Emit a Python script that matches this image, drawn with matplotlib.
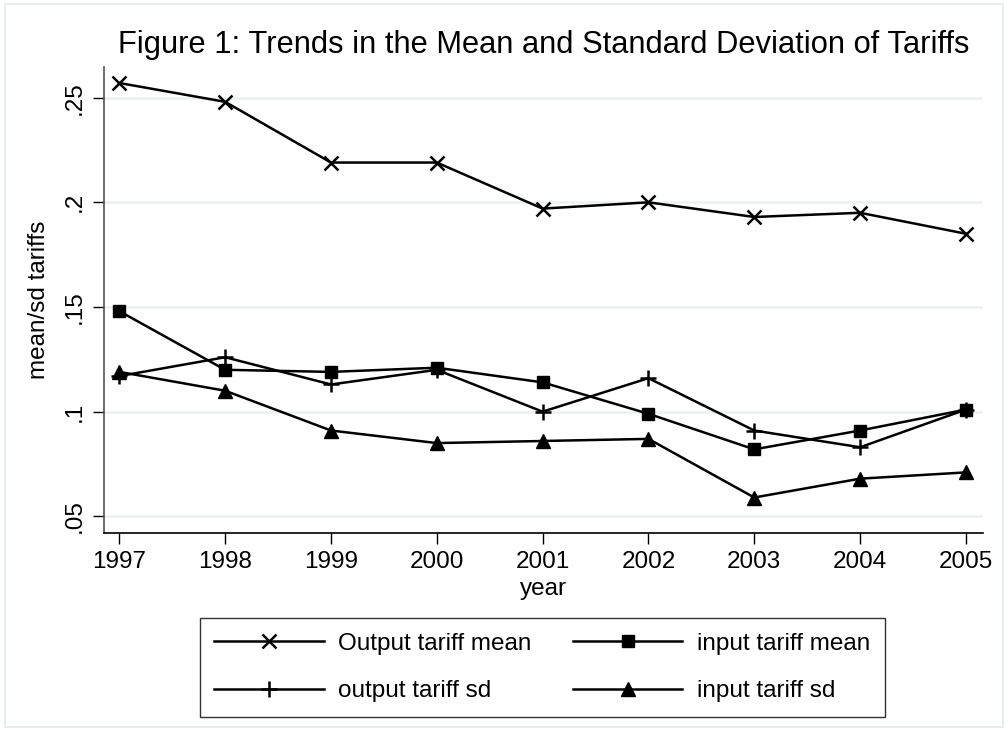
import matplotlib.pyplot as plt
from matplotlib import patches

plt.rcParams["font.family"] = ["Liberation Sans", "DejaVu Sans"]

years = [1997, 1998, 1999, 2000, 2001, 2002, 2003, 2004, 2005]
out_mean = [0.257, 0.248, 0.219, 0.219, 0.197, 0.200, 0.193, 0.195, 0.185]
in_mean = [0.148, 0.120, 0.119, 0.121, 0.114, 0.099, 0.082, 0.091, 0.101]
out_sd = [0.117, 0.126, 0.113, 0.120, 0.100, 0.116, 0.091, 0.083, 0.101]
in_sd = [0.119, 0.110, 0.091, 0.085, 0.086, 0.087, 0.059, 0.068, 0.071]

y_ticks = [0.05, 0.1, 0.15, 0.2, 0.25]
y_labels = [".05", ".1", ".15", ".2", ".25"]

fig = plt.figure(figsize=(10.08, 7.31), dpi=100)
fig.patch.set_facecolor("white")

# light outer frame like the Stata graph region
fig.add_artist(patches.Rectangle((0.005, 0.005), 0.99, 0.99, transform=fig.transFigure,
                                 fill=False, edgecolor="#e3ebef", lw=1.2))

ax = fig.add_axes([0.1032, 0.2713, 0.8718, 0.6375])

style = dict(color="black", lw=1.8)
l1, = ax.plot(years, out_mean, marker="x", markersize=10, markeredgewidth=1.8, **style)
l2, = ax.plot(years, out_sd, marker="+", markersize=12, markeredgewidth=1.8, **style)
l3, = ax.plot(years, in_mean, marker="s", markersize=9, **style)
l4, = ax.plot(years, in_sd, marker="^", markersize=10, **style)

ax.set_xlim(1996.855, 2005.16)
ax.set_ylim(0.0422, 0.2648)

ax.set_yticks(y_ticks)
ax.set_yticklabels(y_labels, rotation=90, va="center")
ax.set_xticks(years)
ax.tick_params(axis="both", labelsize=17.5, length=8, width=1, direction="out", pad=5)

for y in y_ticks:
    ax.axhline(y, color="#eaf1f3", lw=1.8, zorder=0)

for side in ["top", "right"]:
    ax.spines[side].set_visible(False)
ax.spines["left"].set_color("#555555")
ax.spines["left"].set_linewidth(1.2)
ax.spines["bottom"].set_linewidth(1.2)

ax.set_xlabel("year", fontsize=17.5, labelpad=4)
ax.set_ylabel("mean/sd tariffs", fontsize=17.5, labelpad=10)
ax.set_title("Figure 1: Trends in the Mean and Standard Deviation of Tariffs",
             fontsize=22.2, pad=10)

leg = fig.legend([l1, l2, l3, l4],
                 ["Output tariff mean", "output tariff sd", "input tariff mean", "input tariff sd"],
                 ncol=2, loc="center", bbox_to_anchor=(0.538, 0.087), fontsize=17.5,
                 frameon=True, fancybox=False, edgecolor="black", handlelength=4.5,
                 handletextpad=0.6, columnspacing=1.7, labelspacing=1.05, borderpad=0.6)
leg.get_frame().set_linewidth(1.0)

fig.savefig("out.png", dpi=100, facecolor="white")
